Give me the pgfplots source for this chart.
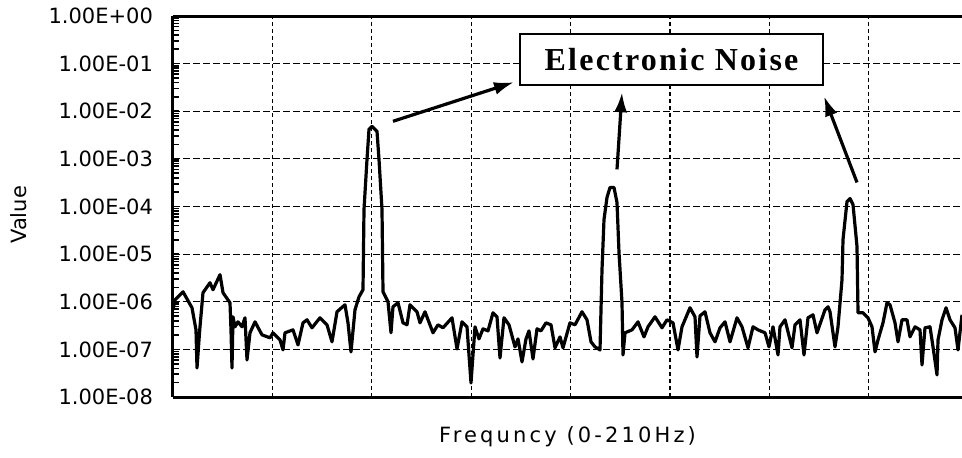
\documentclass[border=0pt]{standalone}
\usepackage{fontspec}
\setmainfont{DejaVu Sans}
\newfontfamily\boxfont[LetterSpace=7]{Liberation Serif}
\newfontfamily\spacedfont[LetterSpace=15]{DejaVu Sans}
\usepackage{pgfplots}
\pgfplotsset{compat=1.18}
\usetikzlibrary{arrows.meta}

\begin{document}
\begin{tikzpicture}
\useasboundingbox (-86.5pt,-30pt) rectangle (394.5pt,198.5pt);
\begin{axis}[
    scale only axis,
    width=394.5pt, height=190.5pt,
    xmin=0, xmax=789,
    ymode=log, ymin=1e-8, ymax=1,
    axis x line*=box, axis y line*=left,
    axis line style={black, line width=1.5pt},
    xtick={99.4,198.8,298.2,397.6,497,596.4,695.8},
    xticklabels={},
    x tick style={draw=none},
    ytick={1e-8,1e-7,1e-6,1e-5,1e-4,1e-3,1e-2,1e-1,1},
    yticklabels={1.00E-08,1.00E-07,1.00E-06,1.00E-05,1.00E-04,1.00E-03,1.00E-02,1.00E-01,1.00E+00},
    minor ytick={},
    tick align=inside,
    y tick style={black, line width=0.8pt},
    major tick length=2pt,
    yticklabel style={font=\fontsize{10.5}{12}\selectfont, xshift=-6.5pt},
    grid=major,
    x grid style={black, line width=0.6pt, dash pattern=on 2pt off 1.5pt},
    y grid style={black, line width=0.6pt, dash pattern=on 3.5pt off 1.5pt},
    ylabel={Value},
    ylabel style={at={(axis description cs:-0.195,0.478)}, anchor=center, font=\fontsize{10.5}{12}\selectfont},
    xlabel={\spacedfont Frequncy (0-210Hz)},
    xlabel style={at={(axis description cs:0.5,-0.105)}, anchor=center, font=\fontsize{10.5}{12}\selectfont},
    clip mode=individual,
]
% spectrum
\addplot[black, line width=1.6pt, mark=none, line join=round] coordinates {
    (0,6.79e-7) (2,1.10e-6) (10,1.62e-6) (19,7.48e-7) (23,2.57e-7) (24,4.08e-8)
    (26,1.58e-7) (27,2.98e-7) (30,1.55e-6) (37,2.51e-6) (40,1.79e-6) (47,3.70e-6)
    (50,1.55e-6) (57,9.53e-7) (58,2.57e-7) (59,4.08e-8) (60,4.83e-7) (62,2.98e-7)
    (65,3.79e-7) (69,2.98e-7) (72,4.61e-7) (74,6.01e-8) (77,2.23e-7) (82,3.79e-7)
    (89,2.02e-7) (97,1.75e-7) (100,2.23e-7) (107,1.58e-7) (110,9.76e-8) (112,2.23e-7)
    (120,2.57e-7) (125,1.24e-7) (130,3.61e-7) (134,4.18e-7) (139,2.84e-7) (147,4.61e-7)
    (154,3.28e-7) (159,1.44e-7) (164,6.16e-7) (172,8.65e-7) (175,3.61e-7) (178,8.86e-8)
    (182,6.79e-7) (186,1.27e-6) (190,1.79e-6) (191,8.65e-5) (194,9.76e-4) (196,4.18e-3)
    (199,4.83e-3) (204,3.79e-3) (206,9.76e-4) (209,8.65e-5) (210,1.62e-6) (215,1.00e-6)
    (218,2.23e-7) (220,7.85e-7) (225,9.53e-7) (230,3.61e-7) (234,3.28e-7) (237,8.65e-7)
    (244,6.16e-7) (247,3.61e-7) (252,6.16e-7) (260,2.23e-7) (265,3.28e-7) (270,2.84e-7)
    (279,4.61e-7) (284,1.02e-7) (289,3.79e-7) (294,2.98e-7) (298,1.97e-8) (302,2.98e-7)
    (306,1.66e-7) (310,2.70e-7) (315,2.45e-7) (320,5.87e-7) (324,4.83e-7) (327,6.62e-8)
    (331,4.61e-7) (336,3.28e-7) (342,1.13e-7) (345,1.66e-7) (349,5.46e-8) (353,1.66e-7)
    (356,2.45e-7) (360,6.31e-8) (364,2.70e-7) (368,2.45e-7) (373,3.61e-7) (378,3.28e-7)
    (382,1.08e-7) (387,1.83e-7) (390,1.08e-7) (397,3.61e-7) (402,3.28e-7) (409,6.16e-7)
    (414,4.18e-7) (418,1.44e-7) (422,1.13e-7) (427,9.76e-8) (429,4.72e-6) (431,5.32e-5)
    (434,1.55e-4) (437,2.51e-4) (441,2.51e-4) (444,1.21e-4) (446,1.08e-5) (449,9.53e-7)
    (450,7.66e-8) (452,2.23e-7) (459,2.57e-7) (465,3.79e-7) (471,1.83e-7) (475,2.98e-7)
    (482,4.83e-7) (489,2.84e-7) (494,4.18e-7) (500,3.61e-7) (505,9.76e-8) (509,2.98e-7)
    (517,7.48e-7) (522,4.83e-7) (524,6.95e-8) (527,5.07e-7) (532,6.16e-7) (537,2.23e-7)
    (542,1.44e-7) (547,2.84e-7) (552,3.79e-7) (557,1.44e-7) (564,4.61e-7) (569,2.98e-7)
    (575,1.08e-7) (580,2.98e-7) (585,2.57e-7) (592,2.23e-7) (596,1.13e-7) (600,2.98e-7)
    (605,7.66e-8) (607,2.98e-7) (612,4.18e-7) (619,1.08e-7) (622,3.28e-7) (627,4.18e-7)
    (631,7.66e-8) (635,4.61e-7) (640,5.32e-7) (644,2.23e-7) (652,6.79e-7) (655,7.85e-7)
    (657,6.16e-7) (662,1.13e-7) (665,2.98e-7) (669,2.91e-6) (670,2.02e-5) (674,1.27e-4)
    (677,1.47e-4) (680,1.10e-4) (684,1.44e-5) (685,5.87e-7) (690,5.87e-7) (695,4.61e-7)
    (699,2.98e-7) (702,8.86e-8) (705,1.58e-7) (710,3.61e-7) (714,9.53e-7) (717,8.65e-7)
    (722,3.61e-7) (725,1.44e-7) (729,4.18e-7) (734,4.18e-7) (737,1.83e-7) (742,2.98e-7)
    (747,2.57e-7) (749,4.72e-8) (752,2.84e-7) (757,2.98e-7) (760,1.13e-7) (764,2.91e-8)
    (765,1.58e-7) (769,4.18e-7) (773,7.48e-7) (777,4.18e-7) (782,2.84e-7) (785,9.76e-8)
    (789,5.32e-7)
};

% annotation
\node[draw=black, line width=0.9pt, fill=white, minimum width=151.5pt, minimum height=25.5pt, inner sep=0pt]
    at (axis cs:498.5,0.1214) {\boxfont\bfseries\fontsize{16}{18}\selectfont Electronic Noise};
\draw[black, line width=1.6pt, -{Latex[length=10pt,width=6.5pt]}] (axis cs:220,6.16e-3) -- (axis cs:341,4.08e-2);
\draw[black, line width=1.6pt, -{Latex[length=10pt,width=6.5pt]}] (axis cs:444,6.01e-4) -- (axis cs:449,2.51e-2);
\draw[black, line width=1.6pt, -{Latex[length=10pt,width=6.5pt]}] (axis cs:684,3.20e-4) -- (axis cs:651,2.07e-2);
\end{axis}
\end{tikzpicture}
\end{document}
